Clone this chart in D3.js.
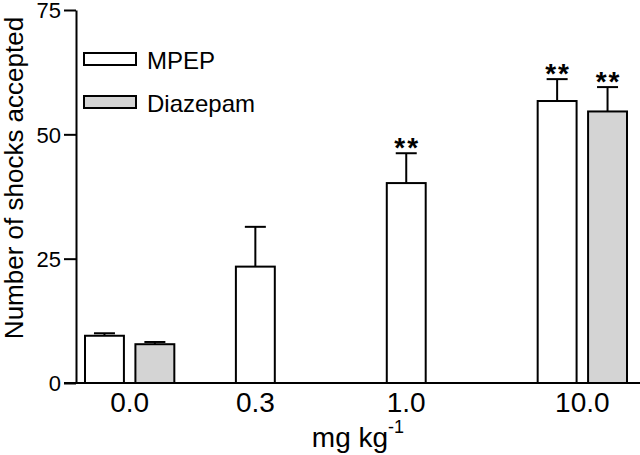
<!DOCTYPE html>
<html>
<head>
<meta charset="utf-8">
<script src="https://cdn.jsdelivr.net/npm/d3@7"></script>
<style>
  html, body { margin: 0; padding: 0; background: #fff; }
  text { font-family: "Liberation Sans", Arial, sans-serif; fill: #000; }
</style>
</head>
<body>
<svg id="chart" width="640" height="455"></svg>
<script>
// ---- data ----
const doses = ["0.0", "0.3", "1.0", "10.0"];
const seriesNames = ["MPEP", "Diazepam"];
const mpepMean = [9.5, 23.4, 40.2, 56.7];
const mpepSem = [0.5, 8.0, 6.0, 4.4];
const diazMean = [7.8, null, null, 54.6];
const diazSem = [0.45, null, null, 4.9];
const mpepSig = ["", "", "**", "**"];
const diazSig = ["", "", "", "**"];
const yTicks = [0, 25, 50, 75];

const fills = { MPEP: "#ffffff", Diazepam: "#d4d4d4" };

const rows = [];
doses.forEach((d, i) => {
  rows.push({ dose: d, series: "MPEP", mean: mpepMean[i], sem: mpepSem[i], sig: mpepSig[i] });
  if (diazMean[i] != null)
    rows.push({ dose: d, series: "Diazepam", mean: diazMean[i], sem: diazSem[i], sig: diazSig[i] });
});

const svg = d3.select("#chart");
svg.append("rect").attr("width", 640).attr("height", 455).attr("fill", "#fff");

const y = d3.scaleLinear().domain([0, 75]).range([383, 10]);
const x0 = d3.scaleBand().domain(doses).range([85, 627]).paddingInner(0.408).paddingOuter(0);
const x1 = d3.scaleBand().domain(seriesNames).range([0, x0.bandwidth()]).paddingInner(0.228).paddingOuter(0);

const axisX = 76;

// bars
const bars = svg.append("g");
bars.selectAll("rect").data(rows).join("rect")
  .attr("x", d => x0(d.dose) + x1(d.series))
  .attr("y", d => y(d.mean))
  .attr("width", x1.bandwidth())
  .attr("height", d => y(0) - y(d.mean))
  .attr("fill", d => fills[d.series])
  .attr("stroke", "#000")
  .attr("stroke-width", 2);

// error bars
const capW = 21;
const err = svg.append("g").attr("stroke", "#000").attr("stroke-width", 2);
rows.forEach(d => {
  const cx = x0(d.dose) + x1(d.series) + x1.bandwidth() / 2;
  err.append("line").attr("x1", cx).attr("x2", cx).attr("y1", y(d.mean)).attr("y2", y(d.mean + d.sem));
  err.append("line").attr("x1", cx - capW / 2).attr("x2", cx + capW / 2)
    .attr("y1", y(d.mean + d.sem)).attr("y2", y(d.mean + d.sem));
});

// significance stars
svg.append("g").selectAll("text").data(rows.filter(d => d.sig)).join("text")
  .attr("x", d => x0(d.dose) + x1(d.series) + x1.bandwidth() / 2 + 1)
  .attr("y", d => y(d.mean + d.sem) + 4)
  .attr("text-anchor", "middle")
  .attr("font-size", 28)
  .attr("font-weight", "bold")
  .attr("letter-spacing", 2)
  .text(d => d.sig);

// y axis
const yAxis = d3.axisLeft(y).tickValues(yTicks).tickSize(12).tickPadding(3).tickSizeOuter(0);
const gy = svg.append("g").attr("transform", `translate(${axisX},0)`).call(yAxis);
gy.select(".domain").attr("stroke-width", 2);
gy.selectAll(".tick line").attr("stroke-width", 2);
gy.selectAll(".tick text").attr("font-size", 22).attr("dy", "0.36em")
  .attr("font-family", "Liberation Sans, Arial, sans-serif");

// x baseline
svg.append("line").attr("x1", axisX - 12).attr("x2", 640).attr("y1", y(0)).attr("y2", y(0))
  .attr("stroke", "#000").attr("stroke-width", 2);

// x category labels (centered on the bars present)
svg.append("g").selectAll("text").data(doses).join("text")
  .attr("x", d => {
    const present = rows.filter(r => r.dose === d);
    const xs = present.map(r => x0(d) + x1(r.series));
    return (d3.min(xs) + d3.max(xs) + x1.bandwidth()) / 2;
  })
  .attr("y", 412)
  .attr("text-anchor", "middle")
  .attr("font-size", 28)
  .text(d => d);

// x axis title
const xt = svg.append("text").attr("x", 358).attr("y", 447).attr("text-anchor", "middle").attr("font-size", 28);
xt.append("tspan").text("mg kg");
xt.append("tspan").attr("font-size", 18).attr("dy", -14).text("-1");

// y axis title
svg.append("text")
  .attr("transform", `translate(23,${178}) rotate(-90)`)
  .attr("text-anchor", "middle")
  .attr("font-size", 26)
  .text("Number of shocks accepted");

// legend
const legend = svg.append("g");
seriesNames.forEach((s, i) => {
  const g = legend.append("g").attr("transform", `translate(84,${53 + i * 43})`);
  g.append("rect").attr("width", 52).attr("height", 12).attr("fill", fills[s]).attr("stroke", "#000").attr("stroke-width", 2);
  g.append("text").attr("x", 63).attr("y", 16).attr("font-size", 24).text(s);
});
</script>
</body>
</html>
